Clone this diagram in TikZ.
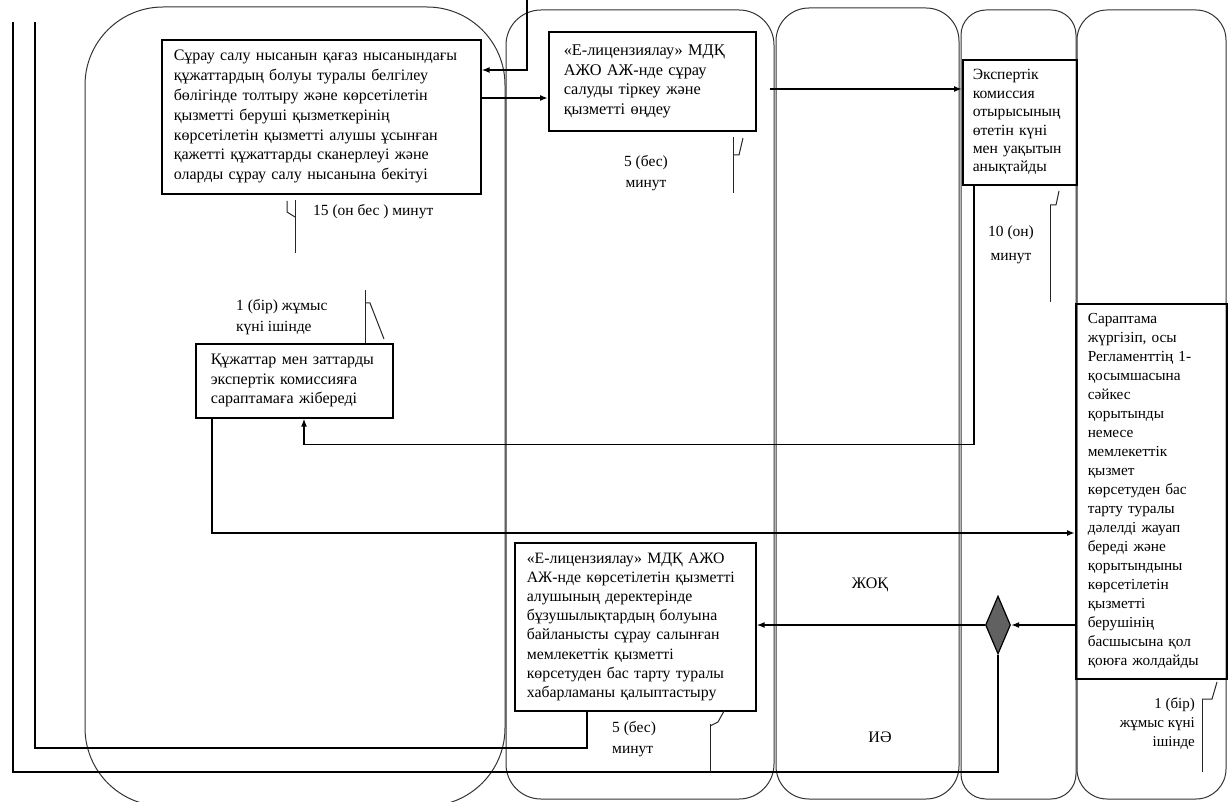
\documentclass[tikz,border=0pt]{standalone}
\usepackage{fontspec}
\setmainfont{Liberation Serif}
\usetikzlibrary{arrows.meta,shapes.geometric,calc}
\begin{document}
\begin{tikzpicture}[x=1pt,y=-1pt,
  lane/.style={draw=black!80, line width=1pt},
  box/.style={draw=black, line width=1.6pt, align=left, inner ysep=0pt, anchor=north west},
  conn/.style={draw=black, line width=1.7pt},
  arr/.style={conn, -{Latex[length=8pt,width=6pt]}},
  lbl/.style={font=\fontsize{15.5}{21}\selectfont, inner sep=0pt},
  tick/.style={draw=black!85, line width=1pt},
]
\useasboundingbox (0,0) rectangle (1229,802);
\clip (0,0) rectangle (1229,802);
\fill[white] (0,0) rectangle (1229,802);

% lanes
\draw[lane, rounded corners=78pt] (85,7) rectangle (505,806);
\draw[lane, rounded corners=35pt] (506,10) rectangle (774,799);
\draw[lane, rounded corners=33pt] (776,8) rectangle (959,799);
\draw[lane, rounded corners=25pt] (961,10) rectangle (1076,799);
\draw[lane, rounded corners=30pt] (1077,10) rectangle (1226,799);

% boxes
\node[box, text width=295pt, inner xsep=12pt, minimum height=154pt,
  font=\fontsize{16}{19.8}\selectfont] (b1) at (161,39)
 {Сұрау салу нысанын қағаз нысанындағы\\
  құжаттардың болуы туралы белгілеу\\
  бөлігінде толтыру және көрсетілетін\\
  қызметті беруші қызметкерінің\\
  көрсетілетін қызметті алушы ұсынған\\
  қажетті құжаттарды сканерлеуі және\\
  оларды сұрау салу нысанына бекітуі};
\node[box, text width=177pt, inner xsep=15pt, minimum height=99pt,
  font=\fontsize{16.3}{19.5}\selectfont] (b2) at (548,31)
 {«Е-лицензиялау» МДҚ\\
  АЖО АЖ-нде сұрау\\
  салуды тіркеу және\\
  қызметті өңдеу};
\node[box, text width=94pt, inner xsep=10pt, minimum height=125pt,
  font=\fontsize{15.6}{18.4}\selectfont] (b3) at (962,59)
 {Экспертік\\
  комиссия\\
  отырысының\\
  өтетін күні\\
  мен уақытын\\
  анықтайды};
\node[box, text width=167pt, inner xsep=15pt, minimum height=74pt,
  font=\fontsize{16}{19.5}\selectfont] (b4) at (195,343)
 {Құжаттар мен заттарды\\
  экспертік комиссияға\\
  сараптамаға жібереді};
\node[box, text width=127pt, inner xsep=12pt, minimum height=375pt,
  font=\fontsize{15.3}{19}\selectfont] (b5) at (1075,303)
 {Сараптама\\
  жүргізіп, осы\\
  Регламенттің 1-\\
  қосымшасына\\
  сәйкес\\
  қорытынды\\
  немесе\\
  мемлекеттік\\
  қызмет\\
  көрсетуден бас\\
  тарту туралы\\
  дәлелді жауап\\
  береді және\\
  қорытындыны\\
  көрсетілетін\\
  қызметті\\
  берушінің\\
  басшысына қол\\
  қоюға жолдайды};
\node[box, text width=217pt, inner xsep=12pt, minimum height=168pt,
  font=\fontsize{15.8}{19.2}\selectfont] (b6) at (514,542)
 {«Е-лицензиялау» МДҚ АЖО\\
  АЖ-нде көрсетілетін қызметті\\
  алушының деректерінде\\
  бұзушылықтардың болуына\\
  байланысты сұрау салынған\\
  мемлекеттік қызметті\\
  көрсетуден бас тарту туралы\\
  хабарламаны қалыптастыру};

% decision
\node[draw=black, line width=1.2pt, fill=black!62, diamond, inner sep=0pt,
  minimum width=25pt, minimum height=58pt] (d) at (998,625) {};

% free ends
\coordinate (topin) at (527,0);
\coordinate (out1) at (13,22);
\coordinate (out2) at (35,22);

% connectors
\draw[arr] (topin) |- ([yshift=-31pt]b1.north east);
\draw[arr] ([yshift=-59pt]b1.north east) -- ([yshift=-59pt]b1.north east -| b2.west);
\draw[arr] ([xshift=13pt,yshift=-58pt]b2.north east) -- ([yshift=-58pt]b2.north east -| b3.west);
\draw[arr] ([xshift=12pt]b3.south west) -- ++(0,259) -| ([xshift=109pt]b4.south west);
\draw[arr] ([xshift=17pt]b4.south west) |- (b5.west |- 0,533);
\draw[arr] (b5.west |- d.east) -- (d.east);
\draw[arr] (d.west) -- (d.west -| b6.east);
\draw[conn] (d.south) |- (out1 |- 0,772) -- (out1);
\draw[conn] ([xshift=73pt]b6.south west) |- (out2 |- 0,748) -- (out2);

% labels
\node[lbl, anchor=west] (t1) at (313,212) {15 (он бес ) минут};
\node[lbl, align=center] (t2) at (646,173) {5 (бес)\\минут};
\node[lbl, align=left, anchor=west] (t4) at (236,317) {1 (бір) жұмыс\\күні ішінде};
\node[lbl, align=center, font=\fontsize{15.5}{24}\selectfont] (t3) at (1011,245) {10 (он)\\минут};
\node[lbl, font=\fontsize{16}{20}\selectfont] (yok) at (870,585) {ЖОҚ};
\node[lbl, font=\fontsize{16}{20}\selectfont] (ia) at (880,737) {ИӘ};
\node[lbl, align=left, anchor=west] (t6) at (612,739) {5 (бес)\\минут};
\node[lbl, align=right, anchor=east, font=\fontsize{15}{19}\selectfont] (t5) at (1195,724) {1 (бір)\\жұмыс күні\\ішінде};

% time markers
\draw[tick] (295,200) -- (295,253);
\draw[tick] (287,201) -- (287,212) -- (295,217);
\draw[tick] (733,137) -- (733,193);
\draw[tick] (733,155) -- (739,155) -- (743,138);
\draw[tick] (365,290) -- (365,343);
\draw[tick] (365,303) -- (370,303) -- (384,339);
\draw[tick] (1050,205) -- (1050,302);
\draw[tick] (1050,205) -- (1056,205) -- (1059,191);
\draw[tick] (710,724) -- (710,772);
\draw[tick] (710,726) -- (718,722) -- (724,711);
\draw[tick] (1202,699) -- (1202,772);
\draw[tick] (1202,699) -- (1212,699) -- (1217,682);
\end{tikzpicture}
\end{document}
